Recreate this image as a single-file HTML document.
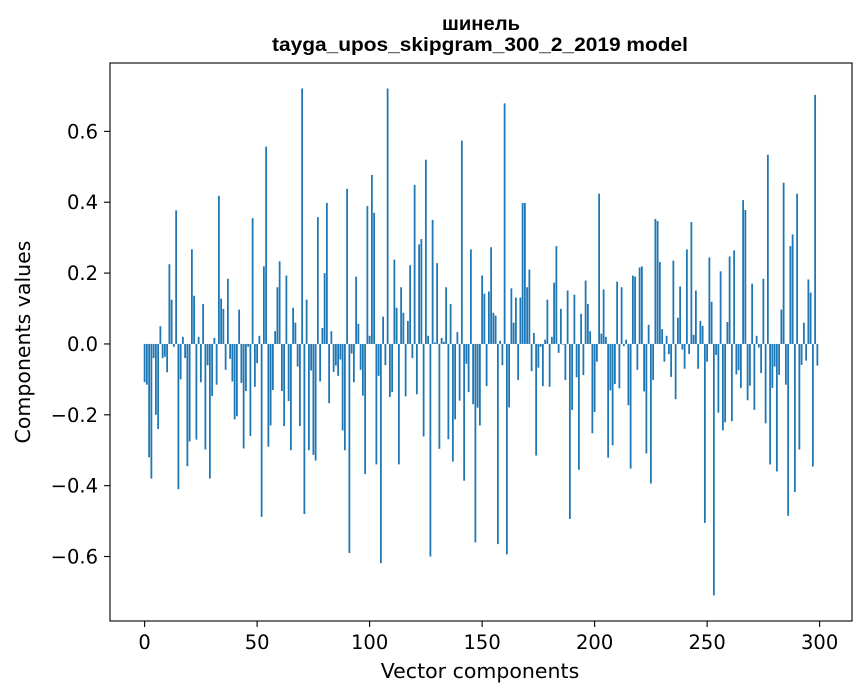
<!DOCTYPE html>
<html><head><meta charset="utf-8"><style>
body{margin:0;background:#fff;}
svg{display:block;font-family:"DejaVu Sans","Liberation Sans",sans-serif;}
</style></head><body>
<svg id="chart" width="867" height="696">
<rect width="867" height="696" fill="#fff"/>
<text x="481" y="30" text-anchor="middle" font-size="19" font-weight="bold" font-family="Liberation Sans, sans-serif" textLength="78" lengthAdjust="spacingAndGlyphs">шинель</text>
<text x="480" y="51" text-anchor="middle" font-size="19" font-weight="bold" font-family="Liberation Sans, sans-serif" textLength="416" lengthAdjust="spacingAndGlyphs">tayga_upos_skipgram_300_2_2019 model</text>
<g id="bars"></g>
<g id="xaxis"></g>
<g id="yaxis"></g>
<rect x="110" y="63" width="742" height="558" fill="none" stroke="#000" stroke-width="1.1"/>
<text x="480" y="678" text-anchor="middle" font-size="20.5">Vector components</text>
<text transform="translate(30,342) rotate(-90)" text-anchor="middle" font-size="20.5">Components values</text>
</svg>
<script>
const values = [
-0.108,-0.115,-0.32,-0.38,-0.04,-0.2,-0.24,0.05,-0.04,-0.036,
-0.08,0.225,0.125,-0.008,0.377,-0.41,-0.1,0.02,-0.04,-0.345,
-0.275,0.267,0.136,-0.27,0.02,-0.108,0.113,-0.298,-0.06,-0.38,
-0.147,0.017,-0.115,0.418,0.128,0.099,-0.073,0.184,-0.042,-0.106,
-0.213,-0.204,0.097,-0.11,-0.295,-0.133,-0.008,-0.26,0.355,-0.121,
-0.054,0.023,-0.488,0.219,0.557,-0.29,-0.23,-0.13,0.036,0.16,
0.233,-0.133,-0.232,0.193,-0.161,-0.3,0.102,0.06,-0.064,-0.232,
0.721,-0.48,0.125,-0.3,-0.075,-0.313,-0.329,0.358,-0.106,0.045,
0.2,0.398,-0.167,0.036,-0.079,-0.061,-0.09,-0.044,-0.244,-0.3,
0.438,-0.59,-0.027,-0.108,0.19,0.057,-0.073,-0.146,-0.367,0.389,
0.023,0.477,0.37,-0.34,-0.09,-0.619,0.077,-0.06,0.721,-0.15,
-0.136,0.238,0.102,-0.34,0.16,0.088,-0.148,0.065,0.222,-0.04,
0.449,-0.142,0.281,0.296,-0.261,0.52,0.023,-0.6,0.35,0.004,
0.228,-0.296,0.017,0.006,0.16,-0.269,0.113,-0.332,-0.213,0.034,
-0.16,0.574,-0.386,-0.056,-0.136,0.267,-0.17,-0.56,-0.18,-0.23,
0.193,0.142,-0.119,0.148,0.273,0.088,0.08,-0.565,0.009,-0.06,
0.679,-0.594,-0.179,0.157,0.06,0.131,-0.102,0.131,0.398,0.398,
0.16,0.21,-0.077,0.031,-0.315,-0.067,-0.008,-0.119,0.012,0.125,
-0.121,0.02,0.173,0.276,-0.025,0.099,-0.002,-0.102,0.151,-0.494,
-0.186,0.139,-0.094,-0.355,0.085,-0.088,0.179,0.113,0.036,-0.252,
-0.192,-0.05,0.424,0.029,0.154,0.02,-0.321,-0.131,-0.286,-0.113,
0.176,-0.125,0.16,-0.006,0.012,-0.173,-0.352,0.193,0.19,-0.073,
0.216,0.219,-0.134,-0.309,0.054,-0.394,-0.102,0.353,0.347,0.231,
0.042,-0.05,0.023,-0.029,-0.093,0.235,-0.156,0.074,0.162,-0.016,
-0.07,0.267,-0.028,0.344,0.026,0.151,-0.07,0.065,0.051,-0.505,
-0.05,0.244,0.119,-0.71,-0.031,-0.194,0.205,-0.244,-0.221,0.062,
0.247,-0.218,0.264,-0.086,-0.074,-0.124,0.406,0.378,-0.159,-0.118,
0.17,-0.186,0.023,-0.01,-0.082,0.184,-0.224,0.534,-0.34,-0.124,
-0.064,-0.36,-0.087,0.097,0.455,-0.115,-0.485,0.276,0.309,-0.418,
0.424,-0.298,-0.059,0.06,-0.047,0.182,0.145,-0.346,0.703,-0.061
];
const xTicks = [0,50,100,150,200,250,300];
const yTicks = [-0.6,-0.4,-0.2,0.0,0.2,0.4,0.6];
const yTickLabels = ["\u22120.6","\u22120.4","\u22120.2","0.0","0.2","0.4","0.6"];

const NS="http://www.w3.org/2000/svg";
const L=110,R=852,T=63,B=621;
const xMin=-15.39,xMax=314.39;
const yMin=-0.782,yMax=0.793;
function xs(v){return L+(v-xMin)/(xMax-xMin)*(R-L);}
function ys(v){return B-(v-yMin)/(yMax-yMin)*(B-T);}
function mk(t,a){const e=document.createElementNS(NS,t);for(const k in a)e.setAttribute(k,a[k]);return e;}

const gb=document.getElementById('bars');
values.forEach((v,i)=>{
  const x0=xs(i-0.4),x1=xs(i+0.4);
  const y0=ys(Math.max(v,0)),y1=ys(Math.min(v,0));
  const r=mk('rect',{x:x0,y:y0,width:x1-x0,height:Math.max(y1-y0,0.3),fill:'#1f77b4'});
  
  
  gb.appendChild(r);
});
const gx=document.getElementById('xaxis');
xTicks.forEach(t=>{
  const x=xs(t);
  const l=mk('line',{x1:x,x2:x,y1:B,y2:B+6,stroke:'#000','stroke-width':1.1});
  
  
  gx.appendChild(l);
  const tx=mk('text',{x:x,y:B+28,'text-anchor':'middle','font-size':19.5});
  tx.textContent=String(t);
  
  
  gx.appendChild(tx);
});
const gy=document.getElementById('yaxis');
yTicks.forEach((t,i)=>{
  const y=ys(t);
  const l=mk('line',{x1:L-6,x2:L,y1:y,y2:y,stroke:'#000','stroke-width':1.1});
  
  
  gy.appendChild(l);
  const tx=mk('text',{x:L-12,y:y+7,'text-anchor':'end','font-size':19.5});
  tx.textContent=yTickLabels[i];
  
  
  gy.appendChild(tx);
});
</script>
</body></html>
